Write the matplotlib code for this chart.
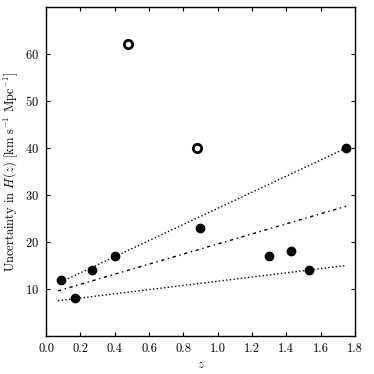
import matplotlib
matplotlib.use("Agg")
import matplotlib.pyplot as plt

plt.rcParams['font.family'] = 'serif'
plt.rcParams['font.serif'] = ['cmr10']
plt.rcParams['mathtext.fontset'] = 'cm'
plt.rcParams['axes.formatter.use_mathtext'] = True

# measured points
z_filled = [0.09, 0.17, 0.27, 0.40, 0.90, 1.30, 1.43, 1.53, 1.75]
dh_filled = [12, 8, 14, 17, 23, 17, 18, 14, 40]
z_open = [0.48, 0.88]
dh_open = [62, 40]

# reference lines (endpoints)
z_line = [0.07, 1.75]
upper_line = [11.2, 40]
mid_line = [9.6, 27.6]
lower_line = [7.5, 15.0]

fig = plt.figure(figsize=(3.74, 3.74), dpi=100)
ax = fig.add_axes([0.123, 0.1016, 0.826, 0.88])

ax.plot(z_line, upper_line, color='k', ls=':', lw=1.0)
ax.plot(z_line, mid_line, color='k', lw=1.0, dashes=[2.4, 2.6, 1.0, 2.6])
ax.plot(z_line, lower_line, color='k', ls=':', lw=1.0)

ax.plot(z_filled, dh_filled, 'o', color='k', ms=6, zorder=3)
ax.plot(z_open, dh_open, 'o', mfc='white', mec='k', mew=2, ms=6, zorder=3)

ax.set_xlim(0, 1.8)
ax.set_ylim(0, 70)
ax.set_xticks([0.0, 0.2, 0.4, 0.6, 0.8, 1.0, 1.2, 1.4, 1.6, 1.8])
ax.set_xticklabels(['0.0', '0.2', '0.4', '0.6', '0.8', '1.0', '1.2', '1.4', '1.6', '1.8'])
ax.set_yticks([10, 20, 30, 40, 50, 60])
ax.tick_params(direction='in', top=True, right=True, labelsize=9, length=3, pad=5)
for s in ax.spines.values():
    s.set_linewidth(1.0)

ax.set_xlabel('$z$', fontsize=9, labelpad=3)
ax.set_ylabel(r'Uncertainty in $H(z)$ [km s$^{-1}$ Mpc$^{-1}$]', fontsize=9, labelpad=4)

fig.savefig('out.png', dpi=100)
